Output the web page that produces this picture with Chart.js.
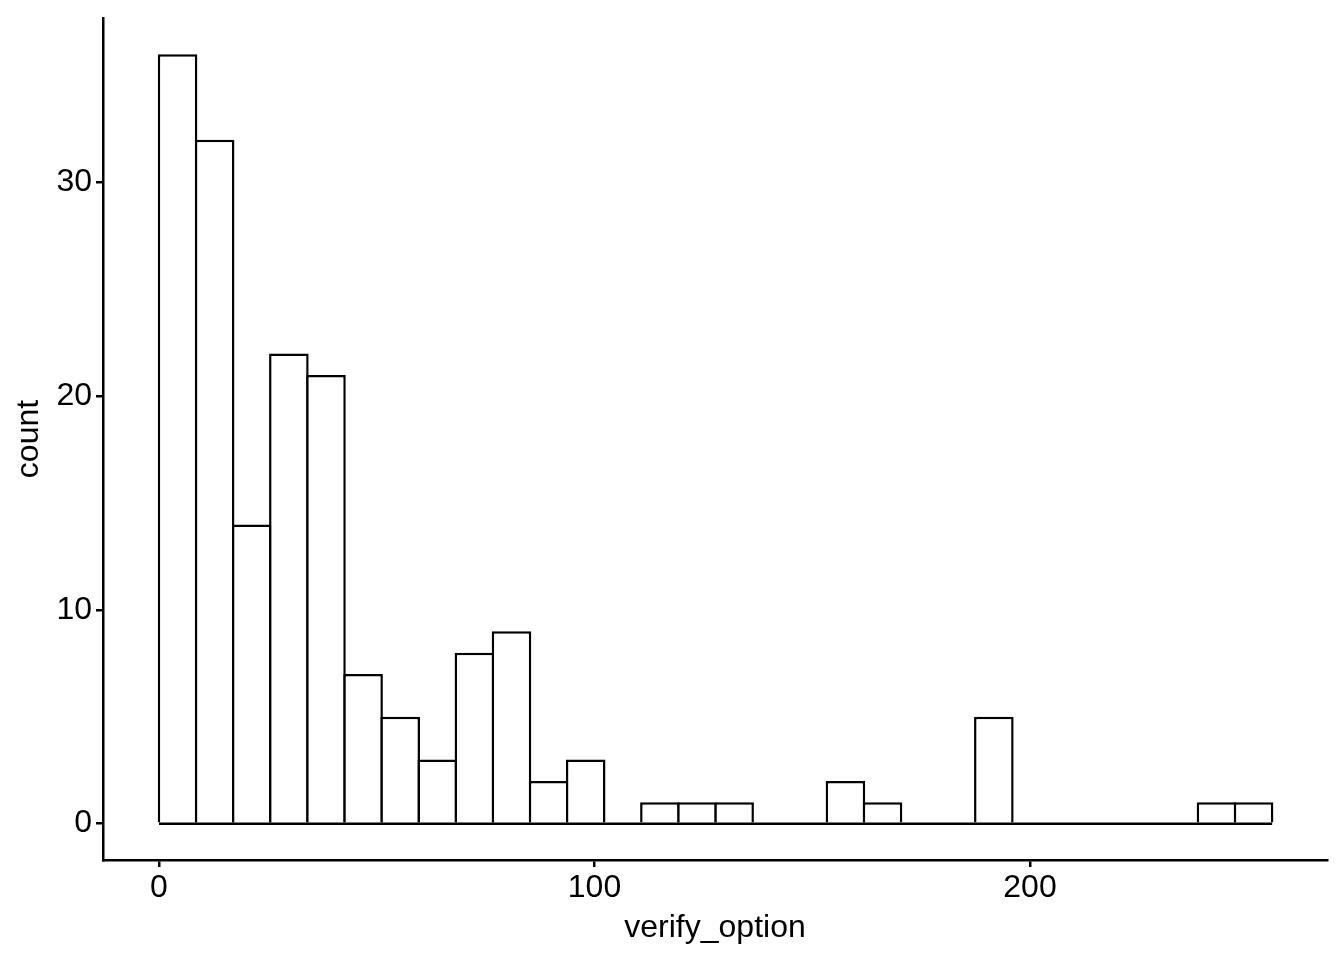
<!DOCTYPE html>
<html>
<head>
<meta charset="utf-8">
<script src="https://cdn.jsdelivr.net/npm/chart.js@4"></script>
<style>
  html, body { margin: 0; padding: 0; background: #fff; }
  #wrap { width: 1344px; height: 960px; }
</style>
</head>
<body>
<div id="wrap"><canvas id="histChart" width="1344" height="960"></canvas></div>
<script>
// histogram of verify_option, 30 bins
const binWidth = 8.52;
const binStarts = [0, 8.52, 17.04, 25.56, 34.08, 42.6, 51.12, 59.64, 68.16, 76.68,
  85.2, 93.72, 102.24, 110.76, 119.28, 127.8, 136.32, 144.84, 153.36, 161.88,
  170.4, 178.92, 187.44, 195.96, 204.48, 213, 221.52, 230.04, 238.56, 247.08];
const counts = [36, 32, 14, 22, 21, 7, 5, 3, 8, 9,
  2, 3, 0, 1, 1, 1, 0, 0, 2, 1,
  0, 0, 5, 0, 0, 0, 0, 0, 1, 1];
const xTicks = [0, 100, 200];
const yTicks = [0, 10, 20, 30];
const xRange = [-12.86, 268.2];
const yRange = [-1.7, 37.7];

const FONT = '"Liberation Sans", Arial, Helvetica, sans-serif';
const LW = 2.5;

const barData = binStarts.map((s, i) => ({ x: s + binWidth / 2, y: counts[i] }));
const lastEdge = binStarts[binStarts.length - 1] + binWidth;

const ctx = document.getElementById('histChart').getContext('2d');
new Chart(ctx, {
    type: 'bar',
    data: {
        datasets: [{
            label: 'count',
            data: barData,
            backgroundColor: '#ffffff',
            borderColor: '#000000',
            borderWidth: LW,
            borderSkipped: 'start', // bottom edge comes from the baseline below
            barPercentage: 1.067, // overlap neighbours so shared edges are one stroke
            categoryPercentage: 1,
            order: 2
        }, {
            // baseline: bottom edge of every bin, empty ones included
            type: 'line',
            data: [{ x: binStarts[0], y: 0 }, { x: lastEdge, y: 0 }],
            borderColor: '#000000',
            borderWidth: LW,
            pointRadius: 0,
            order: 1
        }]
    },
    options: {
        responsive: false,
        animation: false,
        layout: { padding: { top: 18, right: 17, bottom: 0, left: 0 } },
        plugins: { legend: { display: false }, tooltip: { enabled: false } },
        scales: {
            x: {
                type: 'linear',
                offset: false,
                min: xRange[0],
                max: xRange[1],
                afterBuildTicks: s => { s.ticks = xTicks.map(v => ({ value: v })); },
                afterFit: s => { s.height = 100; s.paddingLeft = 0; s.paddingRight = 0; },
                grid: { display: true, offset: false, drawOnChartArea: false, drawTicks: true, tickLength: 7, color: '#000', lineWidth: LW },
                border: { display: true, color: '#000', width: LW },
                ticks: { color: '#000', padding: 2, maxRotation: 0, font: { family: FONT, size: 32 } },
                title: { display: true, text: 'verify_option', color: '#000', padding: { top: 0, bottom: 13 }, font: { family: FONT, size: 32 } }
            },
            y: {
                type: 'linear',
                min: yRange[0],
                max: yRange[1],
                afterBuildTicks: s => { s.ticks = yTicks.map(v => ({ value: v })); },
                afterFit: s => { s.width = 103; s.paddingTop = 0; s.paddingBottom = 0; },
                grid: { display: true, drawOnChartArea: false, drawTicks: true, tickLength: 7, color: '#000', lineWidth: LW },
                border: { display: true, color: '#000', width: LW },
                ticks: { color: '#000', padding: 4, font: { family: FONT, size: 32 } },
                title: { display: true, text: 'count', color: '#000', padding: { top: 10, bottom: 0 }, font: { family: FONT, size: 32 } }
            }
        }
    }
});
</script>
</body>
</html>
